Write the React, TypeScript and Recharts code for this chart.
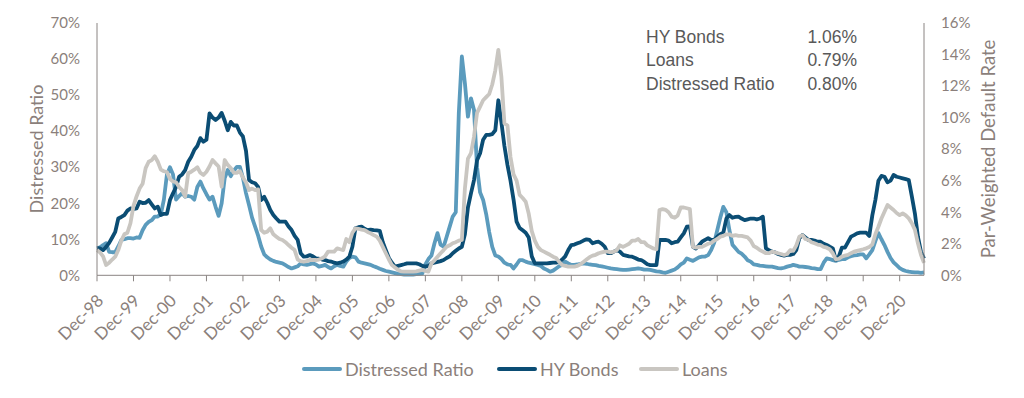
import React from "react";
import { LineChart, Line, XAxis, YAxis } from "recharts";

// month index 0 = Dec-98, one value per month through Aug-21
const tickLabels = [
  "Dec-98", "Dec-99", "Dec-00", "Dec-01", "Dec-02", "Dec-03", "Dec-04", "Dec-05",
  "Dec-06", "Dec-07", "Dec-08", "Dec-09", "Dec-10", "Dec-11", "Dec-12", "Dec-13",
  "Dec-14", "Dec-15", "Dec-16", "Dec-17", "Dec-18", "Dec-19", "Dec-20",
];

// left axis, %
const distressedRatio = [
  7.5,
  7.8, 8.4, 8.9, 6.5, 6.4, 6.4, 8.0, 9.8, 10.0, 10.3, 10.3, 10.2, // 1999
  10.5, 10.4, 12.5, 14.0, 14.8, 15.3, 16.3, 16.3, 17.0, 21.0, 28.0, 30.0, // 2000
  28.0, 21.0, 22.0, 22.8, 21.8, 22.0, 21.8, 21.0, 24.5, 26.0, 24.1, 22.5, // 2001
  21.0, 21.8, 19.0, 16.5, 20.0, 27.0, 29.2, 27.5, 29.0, 30.1, 30.1, 27.0, // 2002
  22.8, 19.5, 16.0, 13.5, 11.0, 8.0, 5.8, 5.0, 4.4, 4.0, 3.7, 3.5, // 2003
  3.3, 2.8, 2.3, 1.9, 2.2, 2.5, 3.3, 3.0, 2.9, 3.1, 3.3, 3.0, // 2004
  2.4, 2.6, 2.9, 2.3, 1.9, 2.5, 2.9, 2.6, 2.4, 3.8, 4.8, 5.2, // 2005
  5.0, 3.8, 3.5, 3.3, 3.1, 2.9, 2.5, 2.2, 1.8, 1.5, 1.2, 1.0, // 2006
  0.8, 0.6, 0.4, 0.3, 0.2, 0.2, 0.2, 0.2, 0.3, 0.4, 0.5, 3.0, // 2007
  4.5, 5.5, 8.9, 11.7, 8.5, 7.9, 10.7, 13.5, 16.3, 17.5, 45.0, 60.7, // 2008
  53.3, 44.0, 49.1, 45.9, 30.0, 23.0, 20.9, 17.0, 12.0, 7.9, 5.5, 5.2, // 2009
  4.5, 3.5, 3.0, 2.9, 1.9, 3.0, 4.2, 4.2, 3.8, 3.5, 3.3, 3.1, // 2010
  2.9, 2.6, 1.9, 1.5, 1.0, 1.3, 1.9, 2.5, 2.9, 3.8, 3.3, 2.9, // 2011
  2.9, 3.0, 3.2, 3.3, 3.2, 3.0, 2.9, 2.8, 2.6, 2.5, 2.3, 2.1, // 2012
  1.9, 1.8, 1.7, 1.6, 1.5, 1.5, 1.6, 1.7, 1.8, 1.9, 1.8, 1.6, // 2013
  1.6, 1.5, 1.3, 1.1, 1.0, 0.8, 0.7, 1.0, 1.3, 1.6, 2.2, 3.0, // 2014
  3.5, 4.7, 4.3, 4.0, 4.5, 5.0, 5.2, 5.2, 5.6, 7.0, 9.0, 12.5, // 2015
  16.0, 19.0, 17.5, 12.5, 8.5, 7.5, 6.5, 6.0, 5.2, 4.2, 3.8, 3.0, // 2016
  2.9, 2.7, 2.6, 2.5, 2.4, 2.4, 2.2, 2.0, 1.9, 2.1, 2.4, 2.6, // 2017
  2.9, 2.7, 2.4, 2.4, 2.3, 2.2, 2.0, 1.9, 1.7, 1.7, 3.5, 4.7, // 2018
  4.5, 4.2, 4.0, 4.3, 4.5, 4.5, 5.0, 5.3, 5.5, 5.6, 5.8, 5.8, // 2019
  4.7, 5.8, 7.0, 9.5, 11.7, 10.0, 8.4, 6.5, 4.8, 3.6, 2.8, 2.0, // 2020
  1.5, 1.2, 1.0, 0.9, 0.8, 0.8, 0.7, 0.8, // 2021
];

// right axis, par-weighted default rate %
const hyBonds = [
  1.72,
  1.7, 1.6, 1.8, 2.06, 2.4, 2.75, 3.6, 3.7, 3.82, 4.1, 4.24, 4.2,
  4.24, 4.67, 4.58, 4.6, 4.77, 4.5, 4.24, 4.35, 3.82, 3.9, 3.9, 4.77,
  5.2, 5.6, 6.25, 6.4, 6.67, 7.2, 7.52, 7.95, 8.2, 8.7, 8.47, 8.6,
  10.27, 10.0, 9.85, 10.0, 10.3, 9.8, 9.2, 9.73, 9.5, 9.5, 9.05, 8.8,
  7.9, 6.05, 5.9, 5.84, 5.6, 4.77, 4.98, 4.6, 4.14, 3.82, 3.6, 3.4,
  3.4, 3.4, 3.1, 2.87, 2.5, 2.24, 1.4, 1.18, 1.2, 1.28, 1.2, 1.08,
  1.05, 1.0, 0.97, 0.9, 0.87, 0.8, 0.76, 0.8, 0.87, 1.0, 1.18, 1.81,
  2.98, 3.05, 3.09, 2.95, 2.86, 2.9, 2.87, 2.85, 2.82, 2.1, 1.6, 1.1,
  0.8, 0.55, 0.6, 0.65, 0.7, 0.76, 0.76, 0.76, 0.76, 0.7, 0.6, 0.55,
  0.6, 0.76, 0.8, 0.85, 0.9, 0.97, 1.1, 1.2, 1.4, 1.55, 1.7, 1.81,
  2.6, 4.3, 5.2, 6.04, 7.3, 7.74, 8.6, 8.9, 8.9, 8.95, 9.2, 11.1,
  9.7, 8.2, 7.0, 6.0, 4.8, 3.4, 3.0, 2.85, 2.7, 2.4, 1.2, 0.76,
  0.76, 0.76, 0.76, 0.76, 0.78, 0.8, 0.8, 0.85, 1.0, 1.2, 1.6, 1.92,
  1.95, 2.03, 2.1, 2.2, 2.28, 2.24, 2.03, 2.1, 2.13, 2.0, 1.81, 1.4,
  1.4, 1.5, 1.6, 1.5, 1.3, 1.25, 1.2, 1.18, 1.1, 1.0, 0.97, 0.85,
  0.7, 0.65, 0.65, 0.65, 2.24, 2.24, 2.24, 2.2, 2.03, 2.1, 2.13, 2.4,
  2.66, 3.08, 3.1, 1.81, 1.7, 1.9, 2.13, 2.25, 2.35, 2.24, 2.24, 2.45,
  2.6, 2.7, 3.6, 3.82, 3.65, 3.7, 3.72, 3.6, 3.5, 3.55, 3.6, 3.6,
  3.55, 3.6, 3.72, 1.71, 1.6, 1.5, 1.45, 1.35, 1.29, 1.25, 1.29, 1.3,
  1.35, 1.6, 2.35, 2.55, 2.4, 2.24, 2.24, 2.2, 2.13, 2.13, 2.0, 1.92,
  1.81, 1.71, 0.97, 1.2, 1.75, 1.75, 2.1, 2.45, 2.55, 2.66, 2.7, 2.7,
  2.7, 2.5, 3.8, 4.77, 6.0, 6.3, 6.25, 5.9, 6.0, 6.36, 6.25, 6.2,
  6.15, 6.1, 6.04, 5.0, 3.93, 2.45, 1.5, 1.06,
];

const loans = [
  1.6,
  1.45, 1.2, 0.65, 0.8, 1.0, 1.18, 1.6, 2.2, 2.6, 2.7, 3.3, 4.4,
  5.0, 5.5, 5.8, 6.8, 7.2, 7.3, 7.55, 7.2, 6.7, 6.6, 6.55, 6.1,
  5.95, 5.9, 5.6, 5.4, 5.0, 6.47, 6.57, 6.7, 6.85, 6.5, 6.36, 6.57,
  6.9, 7.31, 7.1, 6.9, 5.62, 7.31, 7.0, 6.8, 6.5, 6.5, 6.6, 6.2,
  5.9, 5.41, 5.5, 5.4, 5.45, 2.87, 2.7, 2.77, 2.98, 2.6, 2.45, 2.3,
  2.24, 2.1, 1.92, 1.75, 1.6, 1.0, 0.9, 0.86, 0.9, 0.97, 0.97, 0.97,
  1.0, 1.08, 1.2, 1.5, 1.5, 1.5, 1.71, 1.65, 1.6, 2.3, 2.1, 2.7,
  2.98, 2.95, 2.9, 2.87, 2.75, 2.66, 2.55, 2.45, 2.2, 1.8, 1.4, 1.0,
  0.65, 0.5, 0.35, 0.25, 0.23, 0.23, 0.23, 0.23, 0.25, 0.3, 0.34, 0.28,
  0.23, 0.76, 0.95, 1.18, 1.4, 1.6, 1.81, 1.9, 2.03, 2.1, 2.2, 2.24,
  5.5, 7.4, 7.74, 8.8, 10.3, 10.7, 11.1, 11.3, 11.5, 12.1, 13.0, 14.3,
  12.6, 9.64, 9.5, 7.5, 6.4, 6.0, 5.1, 4.9, 4.67, 3.9, 2.8, 2.2,
  1.8, 1.6, 1.5, 1.4, 1.3, 1.18, 1.1, 0.85, 0.65, 0.6, 0.55, 0.55,
  0.55, 0.6, 0.7, 0.85, 1.0, 1.15, 1.25, 1.3, 1.4, 1.45, 1.5, 1.5,
  1.45, 1.5, 1.6, 1.9, 1.8, 1.9, 2.0, 2.2, 2.2, 2.3, 2.1, 2.1,
  1.9, 1.8, 1.7, 1.65, 4.14, 4.2, 4.15, 4.0, 3.72, 3.65, 3.8, 4.3,
  4.3, 4.25, 4.2, 1.8, 1.75, 1.8, 1.8, 1.9, 2.0, 2.05, 2.2, 2.3,
  2.45, 2.5, 2.6, 2.6, 2.5, 2.55, 2.5, 2.5, 2.45, 2.4, 2.2, 1.85,
  1.75, 1.6, 1.5, 1.4, 1.4, 1.5, 1.45, 1.4, 1.35, 1.29, 1.35, 1.6,
  1.55, 1.9, 2.45, 2.55, 2.3, 2.24, 2.1, 2.03, 1.95, 1.92, 1.8, 1.75,
  1.65, 1.4, 1.0, 1.05, 1.18, 1.25, 1.29, 1.4, 1.5, 1.55, 1.6, 1.65,
  1.71, 1.8, 1.95, 2.6, 3.08, 3.6, 4.03, 4.46, 4.3, 4.14, 3.95, 3.82,
  3.93, 3.8, 3.61, 3.3, 2.9, 2.03, 1.3, 0.79,
];

const latestLabels = ["HY Bonds", "Loans", "Distressed Ratio"];
const latestValues = ["1.06%", "0.79%", "0.80%"];

const leftTicks = [0, 10, 20, 30, 40, 50, 60, 70];
const rightTicks = [0, 2, 4, 6, 8, 10, 12, 14, 16];

const DR_COLOR = "#5b9bbd";
const HY_COLOR = "#0b4d74";
const LOAN_COLOR = "#c9c6c1";
const AXIS = "#8a8482";
const TEXT = "#8b7f7b";
const FONT = "Lato, 'Open Sans', sans-serif";

const lastMonth = distressedRatio.length - 1;
const decTicks = tickLabels.map((_, i) => i * 12);

const data = distressedRatio.map((d, i) => ({
  m: i,
  distressed: d,
  hy: hyBonds[i],
  loans: loans[i],
}));

function DecTick(props: any) {
  const { x, y, payload } = props;
  const label = tickLabels[Math.round(payload.value / 12)];
  const tx = x + 3;
  const ty = y + 14;
  return (
    <text
      x={tx}
      y={ty}
      transform={`rotate(-45, ${tx}, ${ty})`}
      textAnchor="end"
      dominantBaseline="central"
      fill={TEXT}
      fontSize={17}
      fontFamily={FONT}
    >
      {label}
    </text>
  );
}

const legendItems = [
  { name: "Distressed Ratio", color: DR_COLOR, left: 302 },
  { name: "HY Bonds", color: HY_COLOR, left: 497 },
  { name: "Loans", color: LOAN_COLOR, left: 639 },
];

export default function App() {
  const tickStyle = { fill: TEXT, fontSize: 15, fontFamily: FONT };
  return (
    <div style={{ position: "absolute", left: 0, top: 0, width: 1024, height: 398, background: "#fff" }}>
      <LineChart width={1024} height={398} data={data} margin={{ top: 23, right: 0, bottom: 0, left: 0 }}>
        <XAxis
          dataKey="m"
          type="number"
          domain={[0, lastMonth]}
          ticks={decTicks}
          interval={0}
          height={122.7}
          axisLine={{ stroke: AXIS }}
          tickLine={{ stroke: AXIS }}
          tickSize={6}
          tick={<DecTick />}
        />
        <YAxis
          yAxisId="left"
          orientation="left"
          width={97}
          domain={[0, 70]}
          ticks={leftTicks}
          interval={0}
          tickFormatter={(v) => `${v}%`}
          axisLine={{ stroke: AXIS }}
          tickLine={false}
          tickSize={0}
          tickMargin={17}
          tick={tickStyle}
        />
        <YAxis
          yAxisId="right"
          orientation="right"
          width={100}
          domain={[0, 16]}
          ticks={rightTicks}
          interval={0}
          tickFormatter={(v) => `${v}%`}
          axisLine={{ stroke: AXIS }}
          tickLine={false}
          tickSize={0}
          tickMargin={17}
          tick={tickStyle}
        />
        <Line yAxisId="left" type="linear" dataKey="distressed" stroke={DR_COLOR} strokeWidth={3.8} dot={false} activeDot={false} isAnimationActive={false} strokeLinejoin="round" />
        <Line yAxisId="right" type="linear" dataKey="hy" stroke={HY_COLOR} strokeWidth={3.8} dot={false} activeDot={false} isAnimationActive={false} strokeLinejoin="round" />
        <Line yAxisId="right" type="linear" dataKey="loans" stroke={LOAN_COLOR} strokeWidth={3.8} dot={false} activeDot={false} isAnimationActive={false} strokeLinejoin="round" />
      </LineChart>

      <svg width={1024} height={398} style={{ position: "absolute", left: 0, top: 0, pointerEvents: "none" }}>
        <text x={36} y={149} transform="rotate(-90, 36, 149)" textAnchor="middle" dominantBaseline="central" fill={TEXT} fontSize={18} fontFamily={FONT}>
          Distressed Ratio
        </text>
        <text x={988} y={149} transform="rotate(-90, 988, 149)" textAnchor="middle" dominantBaseline="central" fill={TEXT} fontSize={18.5} fontFamily={FONT}>
          Par-Weighted Default Rate
        </text>
        {latestLabels.map((l, i) => (
          <g key={l}>
            <text x={646} y={43 + i * 23.3} fill="#595959" fontSize={17.5} fontFamily="'Liberation Sans', Arial, sans-serif">{l}</text>
            <text x={857} y={43 + i * 23.3} textAnchor="end" fill="#595959" fontSize={17.5} fontFamily="'Liberation Sans', Arial, sans-serif">{latestValues[i]}</text>
          </g>
        ))}
      </svg>

      {legendItems.map((it) => (
        <div key={it.name} style={{ position: "absolute", left: it.left, top: 357, height: 24, display: "flex", alignItems: "center", fontFamily: FONT, fontSize: 18, color: TEXT }}>
          <span style={{ display: "inline-block", width: 40, height: 4, background: it.color, borderRadius: 2, marginRight: 3 }} />
          <span>{it.name}</span>
        </div>
      ))}
    </div>
  );
}
